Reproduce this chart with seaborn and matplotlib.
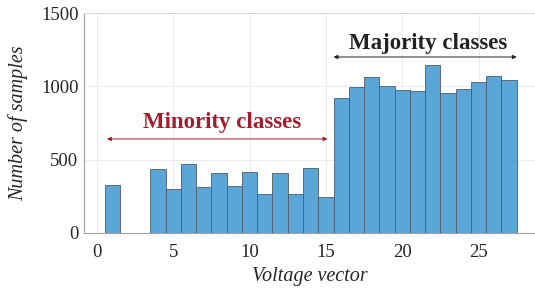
import matplotlib
matplotlib.use("Agg")
import matplotlib.pyplot as plt
import numpy as np
import pandas as pd
import seaborn as sns

vectors = list(range(1, 28))
samples = [329, 0, 0, 438, 303, 470, 310, 410, 320, 413, 265, 410, 267, 446, 247,
           917, 998, 1062, 1001, 976, 971, 1143, 955, 980, 1032, 1068, 1042]

table = pd.DataFrame({'vector': vectors, 'samples': samples})

sns.set_style('whitegrid')
plt.rcParams['font.family'] = ['Liberation Serif', 'DejaVu Serif']

fig = plt.figure(figsize=(5.35, 2.89), dpi=100)
ax = fig.add_axes([0.157, 0.194, 0.843, 0.761])

sns.histplot(data=table, x='vector', weights='samples', discrete=True,
             color='#5ba6d9', edgecolor='#4d5a66', linewidth=0.6, alpha=1, ax=ax)

ax.set_xlim(-0.85, 28.7)
ax.set_ylim(0, 1500)
ax.set_xticks([0, 5, 10, 15, 20, 25])
ax.set_yticks([0, 500, 1000, 1500])
ax.tick_params(labelsize=13.5, length=0)
ax.tick_params(axis='x', pad=8)
ax.tick_params(axis='y', pad=4)
ax.grid(True, color='#ebebeb', linewidth=0.7)
ax.set_axisbelow(True)
ax.set_xlabel('Voltage vector', fontsize=14.5, style='italic', labelpad=4)
ax.set_ylabel('Number of samples', fontsize=14.5, style='italic', labelpad=9)

for side in ['left', 'bottom']:
    ax.spines[side].set_color('#a0a0a0')
    ax.spines[side].set_linewidth(0.8)
ax.spines['top'].set_color('#d8d8d8')
ax.spines['right'].set_visible(False)

red = '#a51d2d'
ax.annotate('', xy=(0.65, 641), xytext=(15.1, 641),
            arrowprops=dict(arrowstyle='<|-|>', color=red, lw=0.7,
                            mutation_scale=6, shrinkA=0, shrinkB=0))
ax.text(8.2, 750, 'Minority classes', color=red, fontsize=16.5, fontweight='bold',
        ha='center', va='center')

ax.annotate('', xy=(15.5, 1200), xytext=(27.5, 1200),
            arrowprops=dict(arrowstyle='<|-|>', color='#222222', lw=0.7,
                            mutation_scale=6, shrinkA=0, shrinkB=0))
ax.text(21.7, 1294, 'Majority classes', color='#222222', fontsize=16.5,
        fontweight='bold', ha='center', va='center')

fig.savefig('out.png', dpi=100)
